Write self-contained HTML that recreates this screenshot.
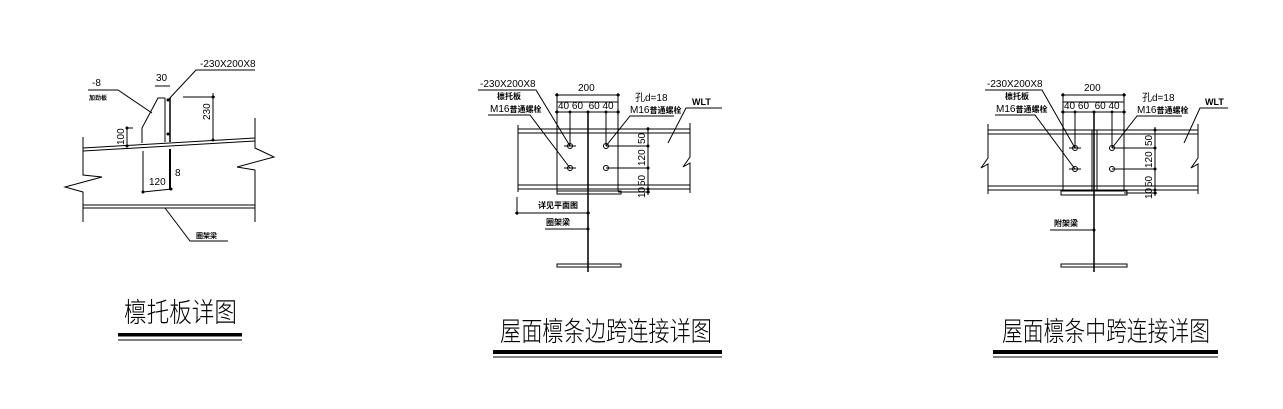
<!DOCTYPE html>
<html><head><meta charset="utf-8"><style>
html,body{margin:0;padding:0;background:#fff;}
svg{display:block;}
text{font-family:"Liberation Sans","Noto Sans CJK SC",sans-serif;fill:#000;}
.s{font-size:10px;}
.c{font-size:8px;font-weight:bold;}
.t{font-family:"Noto Sans CJK SC","WenQuanYi Zen Hei",sans-serif;font-size:27px;font-weight:300;}
</style></head><body>
<svg width="1283" height="409" viewBox="0 0 1283 409" xmlns="http://www.w3.org/2000/svg" stroke="#000" fill="none" stroke-width="1">
<!-- ===== Diagram 1 ===== -->
<g>
<line x1="83" y1="148" x2="255" y2="138"/>
<line x1="83" y1="151" x2="255" y2="141"/>
<polyline points="83,137 83,175 102,177 65,187 83,192 83,222"/>
<polyline points="255,118 255,148 274,157 237,167 255,170 255,222"/>
<line x1="83" y1="205" x2="255" y2="205"/>
<line x1="83" y1="208" x2="255" y2="208"/>
<!-- plate -->
<line x1="165" y1="98" x2="165" y2="142"/>
<line x1="170" y1="98" x2="170" y2="142" stroke-width="1.5"/>
<polyline points="142,143 142,128 158,98 165,98"/>
<line x1="143" y1="151" x2="143" y2="192"/>
<line x1="170" y1="149" x2="170" y2="190" stroke-width="2"/>
<line x1="143" y1="192" x2="172" y2="189"/>
<text class="s" x="149" y="185" stroke="none">120</text>
<text class="s" x="175" y="176" stroke="none">8</text>
<!-- 100 -->
<line x1="127" y1="128" x2="127" y2="146"/>
<line x1="127" y1="128" x2="133" y2="128"/>
<text class="s" transform="translate(124,145) rotate(-90)" stroke="none">100</text>
<!-- 230 -->
<line x1="213" y1="93" x2="213" y2="141"/>
<line x1="183" y1="97" x2="215" y2="97"/>
<text class="s" transform="translate(210,120) rotate(-90)" stroke="none">230</text>
<!-- 30 -->
<text class="s" x="156" y="81" stroke="none">30</text>
<line x1="155" y1="86" x2="170" y2="86"/>
<!-- leaders -->
<polyline points="168,100 196,70 255,70"/>
<text class="s" x="200" y="67" stroke="none">-230X200X8</text>
<polyline points="88,90 118,90 152,113"/>
<text class="s" x="92" y="86" stroke="none">-8</text>
<text class="c" x="89" y="100" stroke="none" style="font-size:6px">加劲板</text>
<polyline points="165,208 190,241 228,241"/>
<text class="c" x="196" y="238" stroke="none" style="font-size:7px">圈架梁</text>
<g stroke="none" fill="#000">
<circle cx="168" cy="100" r="1.5"/><circle cx="168" cy="134" r="1.5"/><circle cx="213" cy="97" r="1.5"/><circle cx="213" cy="140" r="1.5"/><circle cx="127" cy="128" r="1.5"/><circle cx="127" cy="146" r="1.5"/><circle cx="143" cy="192" r="1.5"/><circle cx="171" cy="189" r="1.5"/>
</g>
<text class="t" x="124" y="322" stroke="none" textLength="113" lengthAdjust="spacingAndGlyphs">檩托板详图</text>
<rect x="118" y="333" width="124" height="3.5" fill="#000" stroke="none"/>
<line x1="118" y1="340" x2="242" y2="340"/>
</g>

<!-- ===== Diagram 2 ===== -->
<g>
<line x1="518" y1="129" x2="690" y2="129"/>
<line x1="518" y1="133" x2="690" y2="133"/>
<line x1="518" y1="185" x2="690" y2="185"/>
<line x1="518" y1="189" x2="690" y2="189"/>
<line x1="518" y1="125" x2="518" y2="192"/>
<polyline points="690,123 690,157 683,167 690,163 690,193"/>
<rect x="557" y="102" width="61" height="89"/>
<rect x="557" y="191" width="64" height="3"/>
<line x1="588" y1="112" x2="588" y2="272" stroke-width="1.5"/>
<rect x="557" y="264" width="64" height="3"/>
<g>
<circle cx="570" cy="146" r="2.5"/><circle cx="606" cy="146" r="2.5"/><circle cx="570" cy="168" r="2.5"/><circle cx="606" cy="168" r="2.5"/>
<line x1="564" y1="146" x2="576" y2="146"/><line x1="564" y1="168" x2="576" y2="168"/>
<line x1="606" y1="146" x2="648" y2="146"/><line x1="606" y1="168" x2="648" y2="168"/>
</g>
<line x1="648" y1="127" x2="648" y2="195"/>
<line x1="618" y1="129" x2="650" y2="129"/><line x1="618" y1="189" x2="650" y2="189"/><line x1="618" y1="192" x2="650" y2="192"/>
<text class="s" transform="translate(645,144) rotate(-90)" stroke="none">50</text>
<text class="s" transform="translate(645,166) rotate(-90)" stroke="none">120</text>
<text class="s" transform="translate(645,186) rotate(-90)" stroke="none">50</text>
<text class="s" transform="translate(645,198) rotate(-90)" stroke="none">10</text>
<line x1="555" y1="95" x2="620" y2="95"/>
<line x1="557" y1="93" x2="557" y2="113"/><line x1="618" y1="93" x2="618" y2="113"/>
<text class="s" x="578" y="91" stroke="none">200</text>
<line x1="555" y1="112" x2="620" y2="112"/>
<line x1="570" y1="112" x2="570" y2="146"/><line x1="606" y1="112" x2="606" y2="146"/>
<text class="s" x="558" y="109" stroke="none">40 60&#160;&#160;60 40</text>
<polyline points="478,90 536,90 570,146"/>
<text class="s" x="480" y="87" stroke="none">-230X200X8</text>
<text class="c" x="497" y="99" stroke="none">檩托板</text>
<polyline points="488,115 530,115 570,168"/>
<text class="s" x="490" y="112" stroke="none">M16<tspan class="c">普通螺栓</tspan></text>
<polyline points="606,146 630,116 674,116"/>
<text class="s" x="635" y="101" stroke="none">孔d=18</text>
<text class="s" x="630" y="113" stroke="none">M16<tspan class="c">普通螺栓</tspan></text>
<polyline points="668,143 686,108 722,108"/>
<text class="c" x="692" y="105" stroke="none" style="font-size:9px">WLT</text>
<line x1="517" y1="197" x2="517" y2="215"/>
<line x1="515" y1="213" x2="590" y2="213"/>
<text class="c" x="538" y="208" stroke="none">详见平面图</text>
<line x1="545" y1="229" x2="588" y2="229"/>
<text class="c" x="546" y="225" stroke="none">圈架梁</text>
<g stroke="none" fill="#000">
<circle cx="557" cy="95" r="1.5"/><circle cx="618" cy="95" r="1.5"/><circle cx="557" cy="112" r="1.5"/><circle cx="570" cy="112" r="1.5"/><circle cx="588" cy="112" r="1.5"/><circle cx="606" cy="112" r="1.5"/><circle cx="618" cy="112" r="1.5"/>
<circle cx="648" cy="129" r="1.5"/><circle cx="648" cy="146" r="1.5"/><circle cx="648" cy="168" r="1.5"/><circle cx="648" cy="189" r="1.5"/><circle cx="648" cy="192" r="1.5"/><circle cx="517" cy="213" r="1.5"/><circle cx="588" cy="213" r="1.5"/><circle cx="588" cy="229" r="1.5"/>
</g>
<text class="t" x="500" y="341" stroke="none" textLength="212" lengthAdjust="spacingAndGlyphs">屋面檩条边跨连接详图</text>
<rect x="493" y="350" width="229" height="4" fill="#000" stroke="none"/>
<line x1="493" y1="357" x2="722" y2="357"/>
</g>

<!-- ===== Diagram 3 ===== -->
<g>
<line x1="988" y1="130" x2="1198" y2="130"/>
<line x1="988" y1="134" x2="1198" y2="134"/>
<line x1="988" y1="186" x2="1198" y2="186"/>
<line x1="988" y1="190" x2="1198" y2="190"/>
<polyline points="988,124 988,158 981,168 988,164 988,194"/>
<polyline points="1198,124 1198,158 1191,168 1198,164 1198,194"/>
<rect x="1063" y="102" width="61" height="89"/>
<rect x="1061" y="191" width="66" height="4"/>
<line x1="1092" y1="130" x2="1092" y2="190"/><line x1="1097" y1="130" x2="1097" y2="190"/>
<line x1="1094" y1="112" x2="1094" y2="272" stroke-width="1.5"/>
<rect x="1061" y="264" width="66" height="3"/>
<g>
<circle cx="1075" cy="148" r="2.5"/><circle cx="1112" cy="148" r="2.5"/><circle cx="1075" cy="169" r="2.5"/><circle cx="1112" cy="169" r="2.5"/>
<line x1="1069" y1="148" x2="1081" y2="148"/><line x1="1069" y1="169" x2="1081" y2="169"/>
<line x1="1112" y1="148" x2="1155" y2="148"/><line x1="1112" y1="169" x2="1155" y2="169"/>
</g>
<line x1="1155" y1="127" x2="1155" y2="196"/>
<line x1="1124" y1="130" x2="1157" y2="130"/><line x1="1124" y1="190" x2="1157" y2="190"/><line x1="1124" y1="193" x2="1157" y2="193"/>
<text class="s" transform="translate(1152,146) rotate(-90)" stroke="none">50</text>
<text class="s" transform="translate(1152,168) rotate(-90)" stroke="none">120</text>
<text class="s" transform="translate(1152,187) rotate(-90)" stroke="none">50</text>
<text class="s" transform="translate(1152,199) rotate(-90)" stroke="none">10</text>
<line x1="1061" y1="95" x2="1126" y2="95"/>
<line x1="1063" y1="93" x2="1063" y2="113"/><line x1="1124" y1="93" x2="1124" y2="113"/>
<text class="s" x="1084" y="91" stroke="none">200</text>
<line x1="1061" y1="112" x2="1126" y2="112"/>
<line x1="1075" y1="112" x2="1075" y2="148"/><line x1="1112" y1="112" x2="1112" y2="148"/>
<text class="s" x="1064" y="109" stroke="none">40 60&#160;&#160;60 40</text>
<polyline points="985,90 1042,90 1075,148"/>
<text class="s" x="987" y="87" stroke="none">-230X200X8</text>
<text class="c" x="1005" y="99" stroke="none">檩托板</text>
<polyline points="995,115 1035,115 1075,169"/>
<text class="s" x="996" y="112" stroke="none">M16<tspan class="c">普通螺栓</tspan></text>
<polyline points="1112,148 1137,116 1182,116"/>
<text class="s" x="1142" y="101" stroke="none">孔d=18</text>
<text class="s" x="1137" y="113" stroke="none">M16<tspan class="c">普通螺栓</tspan></text>
<polyline points="1184,143 1200,108 1228,108"/>
<text class="c" x="1205" y="105" stroke="none" style="font-size:9px">WLT</text>
<line x1="1050" y1="230" x2="1094" y2="230"/>
<text class="c" x="1054" y="226" stroke="none">附架梁</text>
<g stroke="none" fill="#000">
<circle cx="1063" cy="95" r="1.5"/><circle cx="1124" cy="95" r="1.5"/><circle cx="1063" cy="112" r="1.5"/><circle cx="1075" cy="112" r="1.5"/><circle cx="1094" cy="112" r="1.5"/><circle cx="1112" cy="112" r="1.5"/><circle cx="1124" cy="112" r="1.5"/>
<circle cx="1155" cy="130" r="1.5"/><circle cx="1155" cy="148" r="1.5"/><circle cx="1155" cy="169" r="1.5"/><circle cx="1155" cy="190" r="1.5"/><circle cx="1155" cy="193" r="1.5"/><circle cx="1094" cy="230" r="1.5"/>
</g>
<text class="t" x="1002" y="341" stroke="none" textLength="208" lengthAdjust="spacingAndGlyphs">屋面檩条中跨连接详图</text>
<rect x="993" y="350" width="225" height="4" fill="#000" stroke="none"/>
<line x1="993" y1="357" x2="1218" y2="357"/>
</g>
</svg>
</body></html>
